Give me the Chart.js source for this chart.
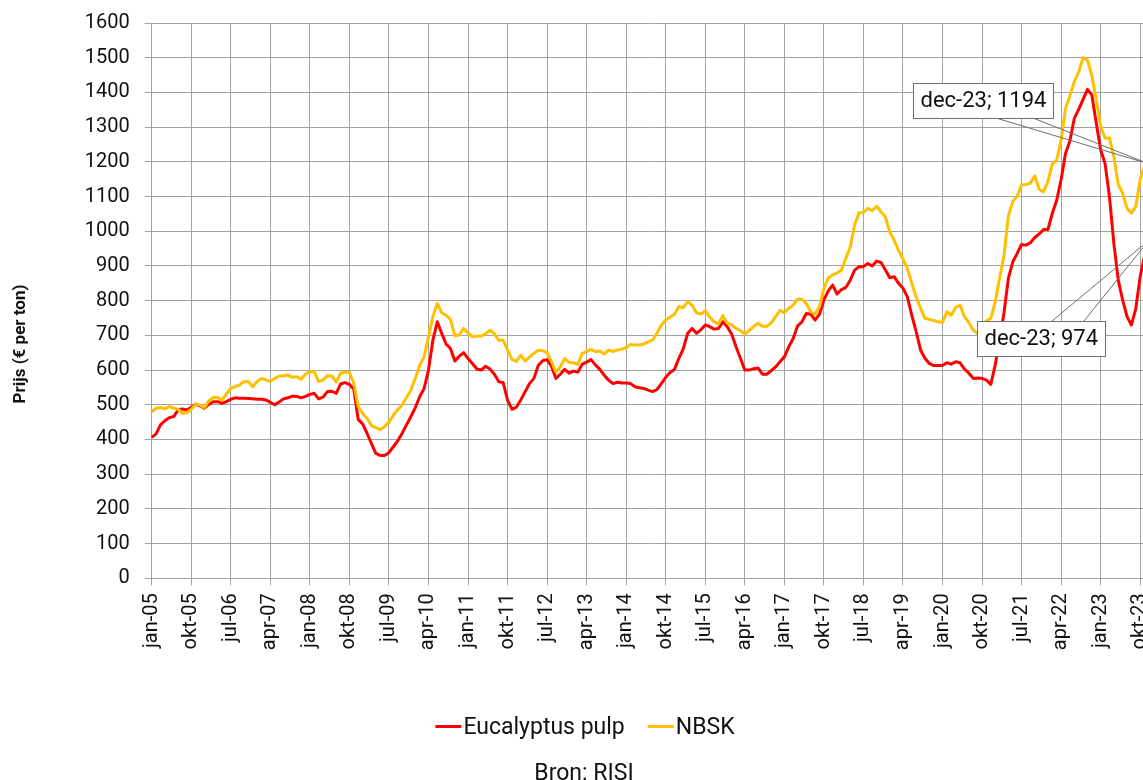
<!DOCTYPE html>
<html><head><meta charset="utf-8">
<script src="https://cdn.jsdelivr.net/npm/chart.js@4.4.1/dist/chart.umd.min.js"></script>
<style>
html,body{margin:0;padding:0;background:#fff;overflow:hidden;width:1143px;height:780px;}
#wrap{position:absolute;left:0;top:0;width:1168px;height:780px;}
</style></head><body>
<div id="wrap"><canvas id="c" width="1168" height="780"></canvas></div>
<script>
// ---- data ----
const MONTHS = ['jan','feb','mrt','apr','mei','jun','jul','aug','sep','okt','nov','dec'];
const YEARS = ['05','06','07','08','09','10','11','12','13','14','15','16','17','18','19','20','21','22','23'];
const categories = [];
for (const y of YEARS) for (const m of MONTHS) categories.push(m + '-' + y);
const LABEL_STEP = 9;

const eucalyptus = [
406,416,442,454,463,466,485,488,485,493,502,497,
490,501,509,509,504,509,516,520,519,519,518,517,
516,516,514,507,500,508,517,520,525,524,520,524,
530,533,517,522,538,539,533,560,564,559,545,458,
445,418,389,360,354,354,362,379,396,418,442,466,
492,523,547,600,686,739,706,675,662,626,640,650,
633,619,603,600,611,603,588,566,564,513,487,493,
514,538,561,576,614,627,630,611,576,588,602,591,
597,594,617,623,630,615,602,585,571,561,565,563,
563,561,552,549,547,542,538,544,561,579,593,602,
634,662,706,720,706,716,730,725,718,720,739,725,
704,667,634,600,600,604,606,588,588,598,609,624,
638,667,691,727,739,763,761,744,761,802,828,845,
819,832,838,859,888,898,898,907,900,914,910,888,
866,869,850,836,811,758,711,658,634,619,613,613,
613,621,617,624,621,603,591,576,577,576,571,559,
615,687,765,865,912,936,962,960,967,982,992,1005,
1005,1052,1090,1149,1224,1261,1325,1351,1380,1409,1392,1311,
1234,1195,1099,965,859,802,754,730,778,870,930,974
];
const nbsk = [
480,490,492,488,495,490,487,475,477,487,502,499,
492,511,521,521,514,531,547,552,557,567,567,552,
567,576,571,567,576,583,583,586,579,581,574,588,
595,595,567,571,584,583,565,591,594,593,562,495,
475,461,440,434,428,437,450,470,486,499,521,542,
576,614,638,696,754,792,765,758,746,699,701,720,
706,696,698,698,704,715,705,686,686,658,630,625,
643,626,638,648,657,656,650,624,595,609,633,622,
621,616,648,653,660,653,655,646,658,653,658,660,
665,674,672,672,675,681,686,706,730,744,753,761,
783,780,797,787,765,761,771,753,739,733,757,735,
730,720,714,704,714,725,735,726,726,736,753,772,
765,778,787,804,804,792,768,761,783,836,865,874,
880,888,922,955,1018,1053,1054,1066,1059,1072,1056,1041,
998,974,945,920,893,850,811,778,749,746,743,739,
737,768,758,781,787,754,737,715,705,730,742,749,
797,865,930,1045,1086,1101,1134,1135,1138,1160,1121,1113,
1144,1194,1206,1263,1354,1390,1431,1459,1500,1494,1448,1378,
1303,1268,1269,1214,1135,1109,1066,1052,1071,1150,1190,1194
];
const seriesNames = ['Eucalyptus pulp', 'NBSK'];
const Y_MIN = 0, Y_MAX = 1600, Y_STEP = 100;
const sourceText = 'Bron: RISI';
const yTitle = 'Prijs (\u20AC per ton)';

// ---- styles / layout ----
const RED = '#ff0000', GOLD = '#ffc000', GRID = '#a3a3a3', TXT = '#111111';
const FONT = 'Roboto';
const calloutLayout = [
  { ds: 1, idx: 227, left: 913, top: 83, h: 35, wedgeY: 'bottom', wx: [996, 1033] },
  { ds: 0, idx: 227, left: 977, top: 321, h: 35, wedgeY: 'top', wx: [1052, 1084] }
];

const extras = {
  id: 'extras',
  afterDatasetsDraw(chart) {
    const ctx = chart.ctx, xs = chart.scales.x, ys = chart.scales.y;
    ctx.save();
    ctx.font = '22px ' + FONT;
    for (const c of calloutLayout) {
      const val = chart.data.datasets[c.ds].data[c.idx];
      const txt = categories[c.idx] + '; ' + val;
      const px = xs.getPixelForValue(c.idx), py = ys.getPixelForValue(val);
      const w = Math.round(ctx.measureText(txt).width + 14);
      const by = c.wedgeY === 'bottom' ? c.top + c.h : c.top;
      ctx.strokeStyle = '#6e6e6e'; ctx.lineWidth = 1;
      ctx.beginPath();
      ctx.moveTo(c.wx[0], by); ctx.lineTo(px, py); ctx.lineTo(c.wx[1], by);
      ctx.stroke();
      ctx.fillStyle = '#fff';
      ctx.fillRect(c.left + 0.5, c.top + 0.5, w, c.h);
      ctx.strokeRect(c.left + 0.5, c.top + 0.5, w, c.h);
      ctx.fillStyle = TXT; ctx.textBaseline = 'middle'; ctx.textAlign = 'left';
      ctx.fillText(txt, c.left + 7.5, c.top + c.h / 2 + 1);
    }
    ctx.restore();
  },
  afterDraw(chart) {
    const ctx = chart.ctx;
    ctx.save();
    ctx.font = 'bold 17px ' + FONT;
    ctx.fillStyle = TXT; ctx.textAlign = 'center'; ctx.textBaseline = 'middle';
    ctx.translate(21, 344); ctx.rotate(-Math.PI / 2);
    ctx.fillText(yTitle, 0, 0);
    ctx.restore();
    ctx.save();
    ctx.font = '23px ' + FONT;
    ctx.textBaseline = 'alphabetic'; ctx.textAlign = 'left';
    const items = chart.data.datasets.map(d => ({ label: d.label, color: d.borderColor, tw: ctx.measureText(d.label).width }));
    const LW = 26, G1 = 2, G2 = 23;
    let total = 0;
    items.forEach((it, i) => { total += LW + G1 + it.tw + (i < items.length - 1 ? G2 : 0); });
    let x = 585 - total / 2;
    for (const it of items) {
      ctx.strokeStyle = it.color; ctx.lineWidth = 3;
      ctx.beginPath(); ctx.moveTo(x, 726.5); ctx.lineTo(x + LW, 726.5); ctx.stroke();
      ctx.fillStyle = TXT;
      ctx.fillText(it.label, x + LW + G1, 734);
      x += LW + G1 + it.tw + G2;
    }
    ctx.textAlign = 'center';
    ctx.fillText(sourceText, 584, 780);
    ctx.restore();
  }
};

new Chart(document.getElementById('c'), {
  type: 'line',
  data: {
    labels: categories,
    datasets: [
      { label: seriesNames[0], data: eucalyptus, borderColor: RED, backgroundColor: RED, borderWidth: 3, pointRadius: 0, tension: 0, order: 1, borderJoinStyle: 'round' },
      { label: seriesNames[1], data: nbsk, borderColor: GOLD, backgroundColor: GOLD, borderWidth: 3, pointRadius: 0, tension: 0, order: 0, borderJoinStyle: 'round' }
    ]
  },
  options: {
    responsive: false, animation: false, devicePixelRatio: 1,
    layout: { padding: { left: 0, right: 19, top: 23, bottom: 0 } },
    plugins: { legend: { display: false }, tooltip: { enabled: false } },
    scales: {
      x: {
        type: 'category', offset: false,
        grid: { color: c => (c.index % LABEL_STEP === 0 ? GRID : 'rgba(0,0,0,0)'), lineWidth: 1, tickLength: 7, drawTicks: true },
        border: { color: GRID },
        ticks: {
          autoSkip: false, minRotation: 90, maxRotation: 90, padding: 8, color: TXT,
          font: { family: FONT, size: 20 },
          callback: (v, i) => (i % LABEL_STEP === 0 ? categories[i] : '')
        },
        afterFit: s => { s.height = 780 - 578.3; s.paddingLeft = 0; s.paddingRight = 0; }
      },
      y: {
        min: Y_MIN, max: Y_MAX,
        grid: { color: GRID, lineWidth: 1, tickLength: 7 },
        border: { color: GRID },
        ticks: { stepSize: Y_STEP, padding: 15, color: TXT, font: { family: FONT, size: 20 }, callback: v => String(v) },
        afterFit: s => { s.width = 151.7; s.paddingTop = 0; s.paddingBottom = 0; }
      }
    }
  },
  plugins: [extras]
});
</script>
</body></html>
